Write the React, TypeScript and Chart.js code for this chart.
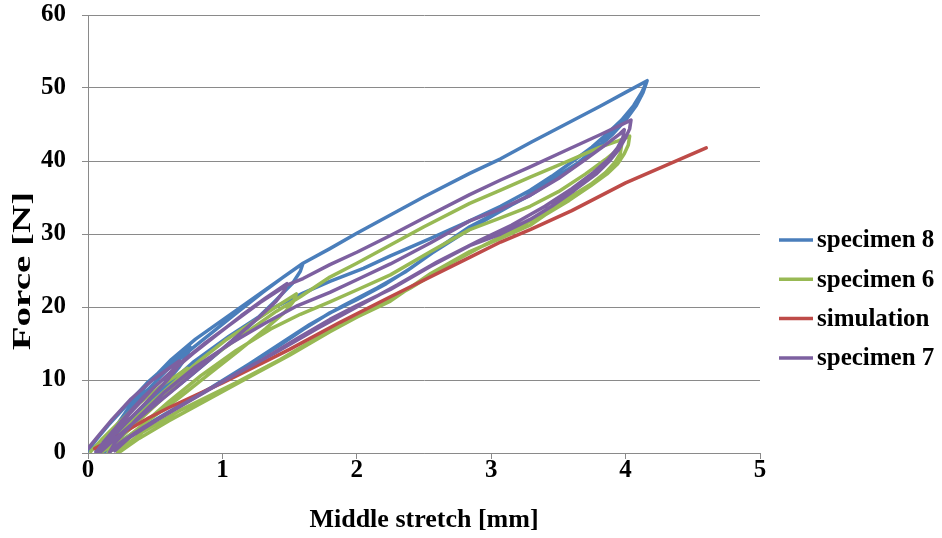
import { useEffect, useRef } from "react";
import { Chart, registerables } from "chart.js";

Chart.register(...registerables);

// Load–unload cycles: [middle stretch (mm), force (N)]
const specimen8: [number, number][] = [
  [0.0, 0.3], [0.06, 1.8], [0.15, 3.8], [0.28, 6.4], [0.44, 9.6], [0.6, 12.2], [0.76, 14.5],
  [0.74, 13.4], [0.68, 11.8], [0.56, 9.2], [0.42, 6.4], [0.28, 3.8], [0.15, 1.6], [0.06, 0.2],
  [0.12, 1.4], [0.25, 4.4], [0.42, 8.2], [0.6, 11.6], [0.78, 14.4], [0.95, 16.9], [1.12, 19.4], [1.3, 22.0], [1.46, 24.2], [1.6, 26.0],
  [1.58, 24.9], [1.52, 23.2], [1.38, 20.6], [1.2, 17.4], [0.98, 13.9], [0.75, 10.4], [0.52, 7.0], [0.32, 3.9], [0.16, 1.4], [0.08, 0.2],
  [0.14, 1.8], [0.28, 5.6], [0.44, 9.4], [0.62, 12.8], [0.8, 15.6], [1.0, 18.2], [1.2, 20.8], [1.4, 23.4], [1.6, 26.0], [1.8, 28.0],
  [2.0, 30.1], [2.25, 32.6], [2.5, 35.1], [2.84, 38.3], [3.07, 40.3], [3.3, 42.6], [3.55, 45.0], [3.81, 47.5], [4.0, 49.4], [4.16, 51.0],
  [4.13, 49.4], [4.08, 47.6], [4.0, 45.6], [3.9, 43.6], [3.78, 41.6], [3.61, 39.2], [3.45, 37.2], [3.29, 35.3], [3.07, 33.2], [2.84, 31.0],
  [2.6, 28.0], [2.4, 25.3], [2.22, 23.2], [2.0, 21.0], [1.8, 19.2], [1.6, 16.9], [1.43, 14.8], [1.13, 11.3], [0.85, 8.2], [0.58, 5.4],
  [0.36, 3.0], [0.18, 0.9], [0.12, 0.1],
  [0.18, 1.2], [0.32, 4.4], [0.5, 7.8], [0.78, 12.4], [1.05, 16.0], [1.35, 19.6], [1.6, 21.9], [1.8, 23.5], [2.05, 25.3], [2.25, 27.0],
  [2.55, 29.4], [2.84, 31.8], [3.07, 33.8], [3.29, 36.0], [3.45, 37.9], [3.61, 40.0], [3.75, 41.9], [3.86, 43.7], [3.97, 45.6], [4.06, 47.6],
  [4.12, 49.4], [4.15, 50.6],
  [4.12, 49.0], [4.05, 47.0], [3.95, 44.8], [3.82, 42.4], [3.65, 39.8], [3.45, 37.4], [3.25, 35.0], [3.02, 32.6], [2.8, 30.2], [2.56, 27.4],
  [2.36, 24.8], [2.15, 22.6], [1.9, 20.2], [1.65, 17.6], [1.45, 15.2], [1.2, 12.2], [0.92, 9.0], [0.64, 6.0], [0.4, 3.4], [0.22, 1.2], [0.16, 0.2],
];

const specimen6: [number, number][] = [
  [0.02, 0.2], [0.1, 1.8], [0.22, 4.0], [0.38, 6.8], [0.56, 9.4], [0.74, 11.6],
  [0.72, 10.8], [0.66, 9.4], [0.54, 7.2], [0.4, 4.8], [0.26, 2.4], [0.14, 0.6], [0.1, 0.1],
  [0.16, 1.0], [0.3, 3.8], [0.48, 7.0], [0.66, 10.0], [0.84, 12.8], [1.02, 15.4], [1.2, 17.6], [1.38, 19.8], [1.55, 21.8],
  [1.53, 20.8], [1.47, 19.4], [1.32, 17.0], [1.12, 14.0], [0.9, 10.8], [0.68, 7.6], [0.46, 4.6], [0.28, 2.0], [0.18, 0.4], [0.15, 0.1],
  [0.2, 1.2], [0.36, 4.4], [0.56, 7.8], [0.78, 11.2], [1.0, 14.2], [1.2, 16.8], [1.4, 19.4], [1.58, 21.4], [1.8, 24.1], [2.0, 26.0],
  [2.25, 28.5], [2.5, 31.0], [2.84, 34.2], [3.07, 36.0], [3.29, 37.8], [3.55, 39.8], [3.81, 41.9], [3.95, 42.8], [4.03, 43.4],
  [4.02, 42.2], [3.99, 41.0], [3.94, 39.6], [3.86, 38.2], [3.74, 36.6], [3.58, 34.6], [3.4, 32.6], [3.29, 31.2], [3.07, 29.4], [2.84, 27.6],
  [2.55, 24.6], [2.25, 20.8], [2.0, 18.6], [1.8, 16.8], [1.43, 12.8], [1.1, 9.6], [0.68, 5.8], [0.4, 2.8], [0.22, 0.1],
  [0.24, 0.8], [0.4, 3.8], [0.6, 7.0], [0.84, 10.6], [1.1, 14.0], [1.36, 17.0], [1.58, 19.0], [1.8, 20.7], [2.02, 22.5], [2.25, 24.4],
  [2.55, 27.6], [2.84, 30.6], [3.07, 32.2], [3.29, 33.8], [3.5, 35.8], [3.7, 38.2], [3.85, 40.2], [3.93, 41.4], [3.97, 42.2],
  [3.96, 41.0], [3.92, 39.8], [3.85, 38.4], [3.74, 36.8], [3.58, 35.0], [3.4, 33.0], [3.2, 30.8], [2.96, 28.6], [2.7, 26.0], [2.4, 22.6],
  [2.1, 19.6], [1.8, 16.6], [1.5, 13.4], [1.2, 10.4], [0.9, 7.4], [0.6, 4.4], [0.38, 2.0], [0.24, 0.2],
];

const simulation: [number, number][] = [
  [0.05, 0.6], [0.15, 1.6], [0.3, 3.2], [0.45, 4.8], [0.6, 6.2], [0.8, 7.9], [1.0, 9.6], [1.25, 11.9], [1.5, 14.2],
  [1.875, 17.9], [2.25, 21.4], [2.84, 26.8], [3.07, 28.9], [3.29, 30.6], [3.6, 33.2], [4.0, 37.0], [4.3, 39.4], [4.6, 41.8],
];

const specimen7: [number, number][] = [
  [0.0, 0.6], [0.08, 2.4], [0.18, 4.6], [0.32, 7.4], [0.48, 10.0], [0.68, 12.6],
  [0.66, 11.6], [0.6, 10.2], [0.48, 7.8], [0.34, 5.2], [0.2, 2.6], [0.1, 0.8], [0.06, 0.1],
  [0.12, 1.6], [0.26, 4.6], [0.42, 7.8], [0.6, 10.8], [0.78, 13.6], [0.96, 16.2], [1.14, 18.8], [1.32, 21.2], [1.48, 23.2],
  [1.46, 22.2], [1.4, 20.8], [1.26, 18.4], [1.06, 15.2], [0.84, 11.8], [0.62, 8.4], [0.42, 5.4], [0.24, 2.6], [0.12, 0.6], [0.09, 0.1],
  [0.14, 1.6], [0.3, 5.2], [0.48, 8.8], [0.68, 12.2], [0.88, 15.2], [1.08, 17.9], [1.28, 20.6], [1.48, 23.0], [1.6, 23.9], [1.8, 25.8],
  [2.0, 27.5], [2.25, 29.8], [2.5, 32.2], [2.84, 35.4], [3.07, 37.4], [3.29, 39.2], [3.55, 41.4], [3.81, 43.6], [3.95, 44.8], [4.04, 45.6],
  [4.03, 44.4], [4.0, 43.2], [3.95, 41.6], [3.88, 40.0], [3.78, 38.2], [3.62, 36.0], [3.45, 33.8], [3.29, 32.0], [3.07, 30.0], [2.84, 28.4],
  [2.55, 25.6], [2.25, 22.4], [2.0, 20.2], [1.8, 18.3], [1.55, 15.6], [1.3, 12.8], [1.0, 9.8], [0.68, 6.4], [0.42, 3.6], [0.24, 1.4], [0.16, 0.1],
  [0.2, 1.4], [0.36, 4.6], [0.56, 8.2], [0.8, 11.8], [1.06, 15.0], [1.32, 17.8], [1.56, 20.2], [1.8, 22.0], [2.02, 23.9], [2.25, 25.9],
  [2.55, 28.8], [2.84, 31.8], [3.07, 33.4], [3.29, 35.3], [3.5, 37.6], [3.7, 40.2], [3.85, 42.2], [3.95, 43.6], [3.99, 44.3],
  [3.98, 43.2], [3.94, 41.8], [3.87, 40.2], [3.76, 38.4], [3.6, 36.2], [3.4, 33.8], [3.15, 31.2], [2.9, 29.0], [2.6, 26.2], [2.3, 23.0],
  [2.0, 20.0], [1.7, 17.0], [1.4, 13.8], [1.1, 10.8], [0.8, 7.6], [0.52, 4.6], [0.3, 2.0], [0.2, 0.3],
];

const seriesLabels = ["specimen 8", "specimen 6", "simulation", "specimen 7"];
const seriesColors = ["#4A7EBB", "#98B954", "#BE4B48", "#7D60A0"];
const xTickValues = [0, 1, 2, 3, 4, 5];
const yTickValues = [0, 10, 20, 30, 40, 50, 60];
const xAxisTitle = "Middle stretch [mm]";
const yAxisTitle = "Force [N]";

const FONT_FAMILY = '"Liberation Serif", "Times New Roman", serif';
const GRID_COLOR = "#8a8a8a";

// Legend on the right plus the rotated, widened y-axis title
const sideDecor = {
  id: "sideDecor",
  afterDraw(chart: any) {
    const { ctx, chartArea } = chart;
    const left = chartArea.right + 19;
    ctx.save();
    ctx.font = `bold 25px ${FONT_FAMILY}`;
    ctx.textBaseline = "middle";
    ctx.textAlign = "left";
    chart.data.datasets.forEach((ds: any, i: number) => {
      const y = 240 + i * 39.3;
      ctx.strokeStyle = ds.borderColor;
      ctx.lineWidth = 3.5;
      ctx.beginPath();
      ctx.moveTo(left, y);
      ctx.lineTo(left + 34, y);
      ctx.stroke();
      ctx.fillStyle = "#000";
      ctx.fillText(ds.label, left + 38, y + 1);
    });
    ctx.restore();

    ctx.save();
    ctx.translate(23, 271);
    ctx.rotate(-Math.PI / 2);
    ctx.scale(1.5, 1);
    ctx.font = `bold 26px ${FONT_FAMILY}`;
    ctx.textAlign = "center";
    ctx.textBaseline = "middle";
    ctx.fillStyle = "#000";
    ctx.fillText(yAxisTitle, 0, 0);
    ctx.restore();
  },
};

export default function App() {
  const canvasRef = useRef<HTMLCanvasElement | null>(null);

  useEffect(() => {
    if (!canvasRef.current) return;
    const series = [specimen8, specimen6, simulation, specimen7];
    // later series sit on top of earlier ones
    const drawOrder = [4, 3, 2, 1];
    const chart = new Chart(canvasRef.current, {
      type: "scatter",
      data: {
        datasets: series.map((pts, i) => ({
          label: seriesLabels[i],
          data: pts.map(([x, y]) => ({ x, y })),
          showLine: true,
          borderColor: seriesColors[i],
          backgroundColor: seriesColors[i],
          borderWidth: 3.5,
          pointRadius: 0,
          pointHoverRadius: 0,
          tension: 0,
          fill: false,
          order: drawOrder[i],
          borderJoinStyle: "round" as const,
          borderCapStyle: "round" as const,
        })),
      },
      options: {
        responsive: false,
        animation: false,
        layout: { padding: { top: 0, right: 182, left: 0, bottom: 0 } },
        plugins: {
          legend: { display: false },
          tooltip: { enabled: false },
        },
        scales: {
          x: {
            type: "linear",
            min: xTickValues[0],
            max: xTickValues[xTickValues.length - 1],
            afterFit: (scale: any) => {
              scale.height = 85;
            },
            afterBuildTicks: (scale: any) => {
              scale.ticks = xTickValues.map((v) => ({ value: v }));
            },
            grid: {
              drawOnChartArea: false,
              drawTicks: true,
              tickLength: 6,
              color: GRID_COLOR,
            },
            border: { display: true, color: GRID_COLOR, width: 1 },
            ticks: {
              padding: -3,
              color: "#000",
              font: { family: FONT_FAMILY, size: 25, weight: "bold" },
            },
            title: {
              display: true,
              text: xAxisTitle,
              color: "#000",
              font: { family: FONT_FAMILY, size: 26, weight: "bold" },
              padding: { top: 0, bottom: 2 },
            },
          },
          y: {
            type: "linear",
            min: yTickValues[0],
            max: yTickValues[yTickValues.length - 1],
            afterFit: (scale: any) => {
              scale.width = 88;
              scale.paddingTop = 15;
              scale.paddingBottom = 0;
            },
            afterBuildTicks: (scale: any) => {
              scale.ticks = yTickValues.map((v) => ({ value: v }));
            },
            grid: {
              drawOnChartArea: true,
              drawTicks: true,
              tickLength: 6,
              color: GRID_COLOR,
            },
            border: { display: true, color: GRID_COLOR, width: 1 },
            ticks: {
              padding: 16,
              color: "#000",
              font: { family: FONT_FAMILY, size: 25, weight: "bold" },
            },
            title: { display: false },
          },
        },
      },
      plugins: [sideDecor],
    });
    return () => chart.destroy();
  }, []);

  return (
    <div style={{ position: "fixed", left: 0, top: 0, width: 942, height: 538, background: "#fff" }}>
      <canvas ref={canvasRef} width={942} height={538} style={{ display: "block" }} />
    </div>
  );
}
